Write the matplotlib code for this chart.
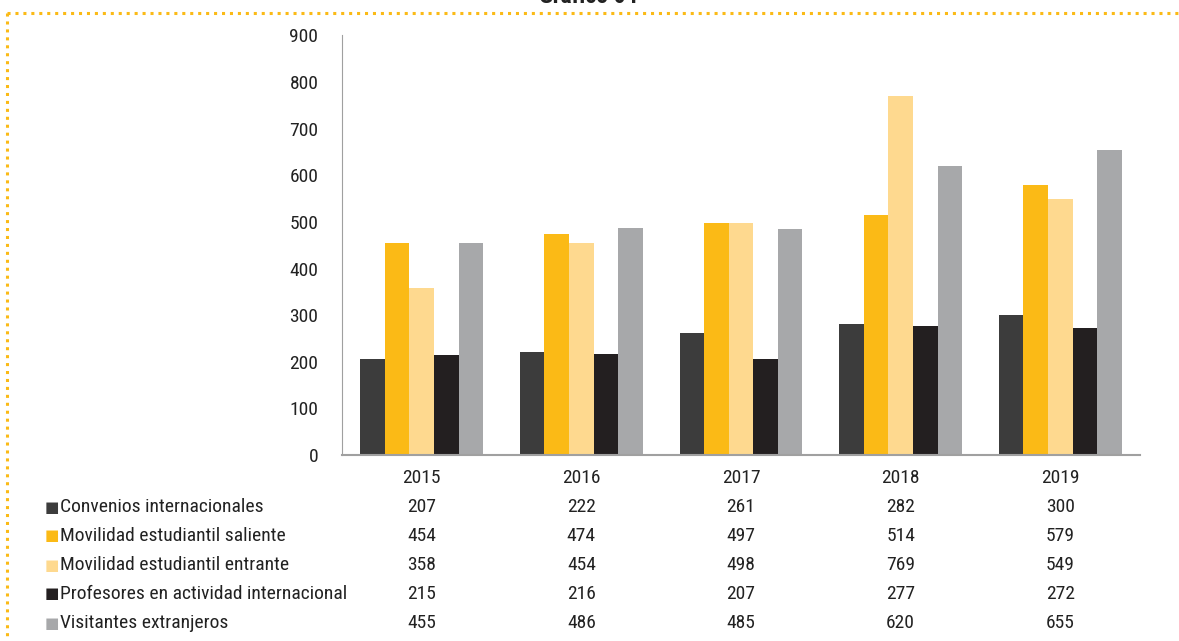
import matplotlib as mpl
mpl.use('Agg')
import matplotlib.pyplot as plt
import matplotlib.transforms as mtransforms
from matplotlib.lines import Line2D
import numpy as np

plt.rcParams['font.family'] = ['Roboto Condensed', 'Roboto', 'DejaVu Sans']

years = ['2015', '2016', '2017', '2018', '2019']
series_names = ['Convenios internacionales',
                'Movilidad estudiantil saliente',
                'Movilidad estudiantil entrante',
                'Profesores en actividad internacional',
                'Visitantes extranjeros']
convenios = [207, 222, 261, 282, 300]
mov_saliente = [454, 474, 497, 514, 579]
mov_entrante = [358, 454, 498, 769, 549]
profesores = [215, 216, 207, 277, 272]
visitantes = [455, 486, 485, 620, 655]
colors = ['#3c3c3c', '#fbba16', '#fed98f', '#231f20', '#a7a8aa']

series = [convenios, mov_saliente, mov_entrante, profesores, visitantes]
fs = 14

fig = plt.figure(figsize=(11.79, 6.41), dpi=100)
ax = fig.add_axes([0.290, 0.290, 0.677, 0.655])

x = np.arange(len(years))
w = 0.154
for i, (vals, c) in enumerate(zip(series, colors)):
    ax.bar(x + (i - 2) * w, vals, width=w, color=c, zorder=2)

ax.set_xlim(-0.5, len(years) - 0.5)
ax.set_ylim(0, 900)
ax.set_yticks(np.arange(0, 901, 100))
ax.tick_params(axis='y', length=0, labelsize=fs, colors='#222222', pad=17)
ax.set_xticks([])
for s in ['top', 'right']:
    ax.spines[s].set_visible(False)
ax.spines['left'].set_color('#a0a0a0')
ax.spines['bottom'].set_color('#a0a0a0')
ax.spines['bottom'].set_linewidth(1.5)

# data table under the chart
trans = mtransforms.blended_transform_factory(ax.transData, fig.transFigure)
header_y = 1 - 478 / 641
for xi, yr in zip(x, years):
    ax.text(xi, header_y, yr, transform=trans, ha='center', va='center',
            fontsize=fs, color='#222222')
row_ys = [1 - v / 641 for v in [507, 536, 565, 594, 623]]
for ry, name, vals, c in zip(row_ys, series_names, series, colors):
    fig.text(45 / 1179, ry, '■', color=c, ha='left', va='center',
             fontsize=11, family='DejaVu Sans')
    fig.text(60 / 1179, ry, name, ha='left', va='center', fontsize=fs,
             color='#222222')
    for xi, v in zip(x, vals):
        ax.text(xi, ry, str(v), transform=trans, ha='center', va='center',
                fontsize=fs, color='#222222')

# cut-off title and dotted frame
fig.text(588 / 1179, 1 - 3 / 641, 'Gráfico 04', ha='center', va='baseline',
         fontsize=17, fontweight='bold', color='#222222')
fig.add_artist(Line2D([7 / 1179, 1], [1 - 13 / 641, 1 - 13 / 641],
                      transform=fig.transFigure, color='#fbba16',
                      linestyle=(0, (1, 1.6)), linewidth=2.2))
fig.add_artist(Line2D([7 / 1179, 7 / 1179], [1 - 13 / 641, 0],
                      transform=fig.transFigure, color='#fbba16',
                      linestyle=(0, (1, 1.6)), linewidth=2.2))

fig.savefig('out.png', dpi=100)
